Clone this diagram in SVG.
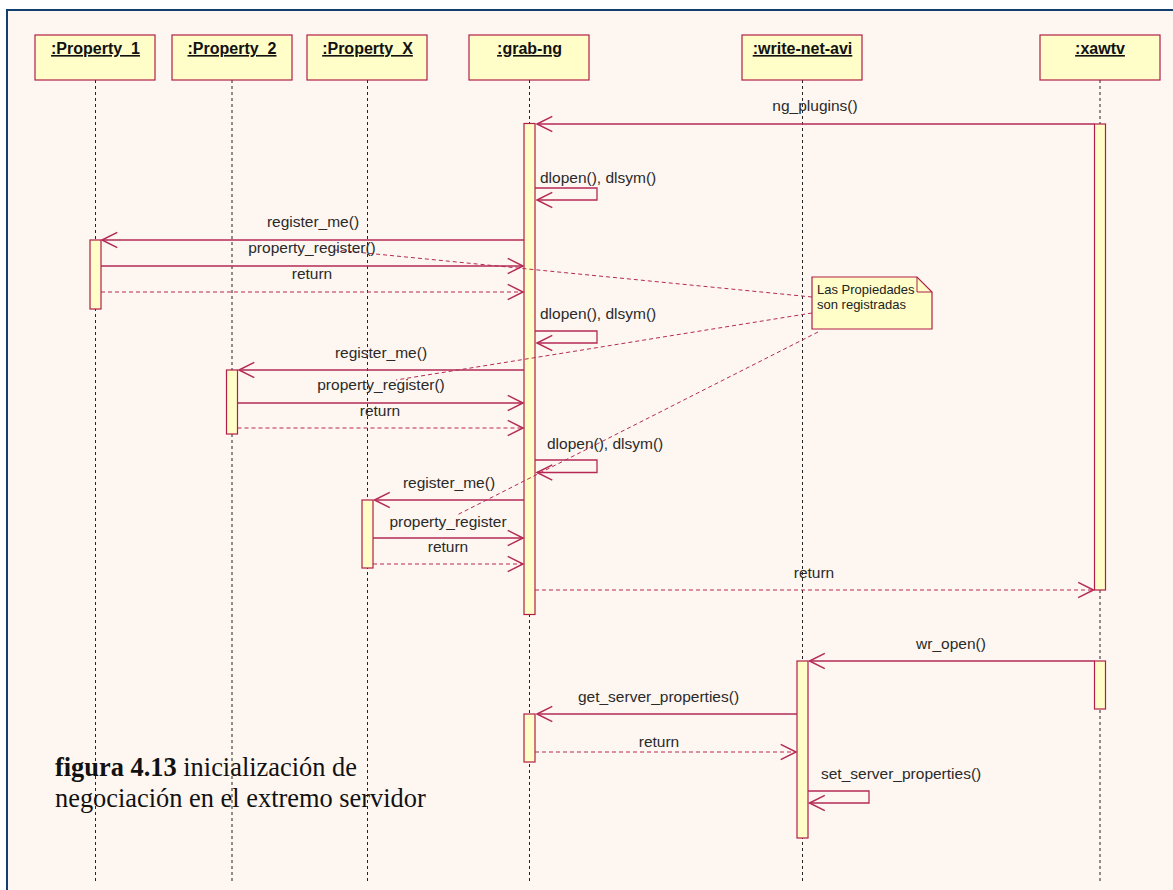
<svg xmlns="http://www.w3.org/2000/svg" width="1173" height="890" viewBox="0 0 1173 890">
<defs>
<style>
.frame{fill:#FEF6F1;stroke:#123E70;stroke-width:2}
.obj{fill:#FFFDC8;stroke:#B01E48;stroke-width:1.2}
.act{fill:#FFFDC8;stroke:#B01E48;stroke-width:1.2}
.life{stroke:#222;stroke-width:1;stroke-dasharray:3 3;fill:none}
.msg{stroke:#B52A55;stroke-width:1.3;fill:none;marker-end:url(#open)}
.ret{stroke:#B52A55;stroke-width:1.2;fill:none;stroke-dasharray:4 3;marker-end:url(#open)}
.anch{stroke:#B52A55;stroke-width:1;fill:none;stroke-dasharray:4 3}
.hdr{font-family:"Liberation Sans",Arial,sans-serif;font-size:16px;font-weight:bold;fill:#111;text-anchor:middle;text-decoration:underline}
.lbl{font-family:"Liberation Sans",Arial,sans-serif;font-size:15.5px;fill:#2a2a2a}
.mid{text-anchor:middle}
.note{font-family:"Liberation Sans",Arial,sans-serif;font-size:13px;fill:#222}
.cap{font-family:"Liberation Serif","Times New Roman",serif;font-size:26.4px;fill:#111}
</style>
<marker id="open" markerUnits="userSpaceOnUse" markerWidth="20" markerHeight="20" viewBox="-15 -8 17 16" refX="0" refY="0" orient="auto">
<path d="M-13,-6.5 L0,0 L-13,6.5" fill="none" stroke="#B52A55" stroke-width="1.3"/>
</marker>
</defs>
<rect x="0" y="0" width="1173" height="890" fill="#FFFFFF"/>
<rect x="7" y="10" width="1175" height="900" class="frame"/>

<g id="lifelines">
<line class="life" x1="95.5" y1="80" x2="95.5" y2="882"/>
<line class="life" x1="232" y1="80" x2="232" y2="882"/>
<line class="life" x1="367.5" y1="80" x2="367.5" y2="882"/>
<line class="life" x1="529.5" y1="80" x2="529.5" y2="882"/>
<line class="life" x1="802.5" y1="80" x2="802.5" y2="882"/>
<line class="life" x1="1100" y1="80" x2="1100" y2="882"/>
</g>

<g id="property1">
<rect class="obj" x="35" y="35" width="120" height="45"/>
<text class="hdr" x="95.5" y="54">:Property_1</text>
<rect class="act" x="90" y="240" width="11" height="69"/>
</g>
<g id="property2">
<rect class="obj" x="172" y="35" width="120" height="45"/>
<text class="hdr" x="232" y="54">:Property_2</text>
<rect class="act" x="226.5" y="370" width="11" height="64"/>
</g>
<g id="propertyX">
<rect class="obj" x="307" y="35" width="120" height="45"/>
<text class="hdr" x="367.5" y="54">:Property_X</text>
<rect class="act" x="362" y="500" width="11" height="68"/>
</g>
<g id="grab-ng">
<rect class="obj" x="469" y="35" width="120" height="45"/>
<text class="hdr" x="529.5" y="54">:grab-ng</text>
<rect class="act" x="524" y="123.5" width="11" height="491"/>
<rect class="act" x="524" y="714" width="11" height="48"/>
</g>
<g id="write-net-avi">
<rect class="obj" x="742" y="35" width="120" height="45"/>
<text class="hdr" x="802.5" y="54">:write-net-avi</text>
<rect class="act" x="797" y="661" width="11" height="177"/>
</g>
<g id="xawtv">
<rect class="obj" x="1040" y="35" width="120" height="45"/>
<text class="hdr" x="1100" y="54">:xawtv</text>
<rect class="act" x="1094.5" y="124" width="11" height="466"/>
<rect class="act" x="1094.5" y="661" width="11" height="48"/>
</g>

<g id="note">
<path d="M812,277 H917 L932,292 V329 H812 Z" fill="#FFFDC8" stroke="#B01E48" stroke-width="1.2"/>
<path d="M917,277 V292 H932" fill="none" stroke="#B01E48" stroke-width="1"/>
<text class="note" x="817" y="294">Las Propiedades</text>
<text class="note" x="817" y="309">son registradas</text>
</g>

<g id="connectors">
<path class="msg" d="M1094.5,124 H537"/>
<path class="msg" d="M535,188 H597 V200 H537"/>
<path class="msg" d="M524,240 H102"/>
<path class="msg" d="M101,266 H523"/>
<path class="ret" d="M101,292 H523"/>
<path class="msg" d="M535,331 H597 V343 H537"/>
<path class="msg" d="M524,370 H239"/>
<path class="msg" d="M237.5,403 H523"/>
<path class="ret" d="M237.5,428 H523"/>
<path class="msg" d="M535,460 H597 V472.5 H537"/>
<path class="msg" d="M524,500 H374.5"/>
<path class="msg" d="M373,538 H523"/>
<path class="ret" d="M373,564 H523"/>
<path class="ret" d="M535,590 H1093.5"/>
<path class="msg" d="M1094.5,661 H809.5"/>
<path class="msg" d="M797,714 H537"/>
<path class="ret" d="M535,752 H796"/>
<path class="msg" d="M808,791 H869 V803 H809.5"/>
<line class="anch" x1="812" y1="297" x2="335" y2="250"/>
<line class="anch" x1="812" y1="313" x2="396" y2="380"/>
<line class="anch" x1="818" y1="332" x2="457" y2="515"/>
</g>

<g id="labels">
<text class="lbl mid" x="815" y="111">ng_plugins()</text>
<text class="lbl" x="540" y="183">dlopen(), dlsym()</text>
<text class="lbl mid" x="313" y="227">register_me()</text>
<text class="lbl mid" x="312" y="253">property_register()</text>
<text class="lbl mid" x="312" y="279">return</text>
<text class="lbl" x="540" y="319">dlopen(), dlsym()</text>
<text class="lbl mid" x="381" y="358">register_me()</text>
<text class="lbl mid" x="381" y="390">property_register()</text>
<text class="lbl mid" x="380" y="416">return</text>
<text class="lbl" x="547" y="449">dlopen(), dlsym()</text>
<text class="lbl mid" x="449" y="488">register_me()</text>
<text class="lbl mid" x="448" y="527">property_register</text>
<text class="lbl mid" x="448" y="552">return</text>
<text class="lbl mid" x="814" y="578">return</text>
<text class="lbl mid" x="951" y="649">wr_open()</text>
<text class="lbl mid" x="658.5" y="702">get_server_properties()</text>
<text class="lbl mid" x="659" y="747">return</text>
<text class="lbl" x="821" y="779">set_server_properties()</text>
</g>

<g id="caption">
<text class="cap" x="55" y="776"><tspan font-weight="bold">figura 4.13</tspan> inicialización de</text>
<text class="cap" x="55" y="807">negociación en el extremo servidor</text>
</g>
</svg>
